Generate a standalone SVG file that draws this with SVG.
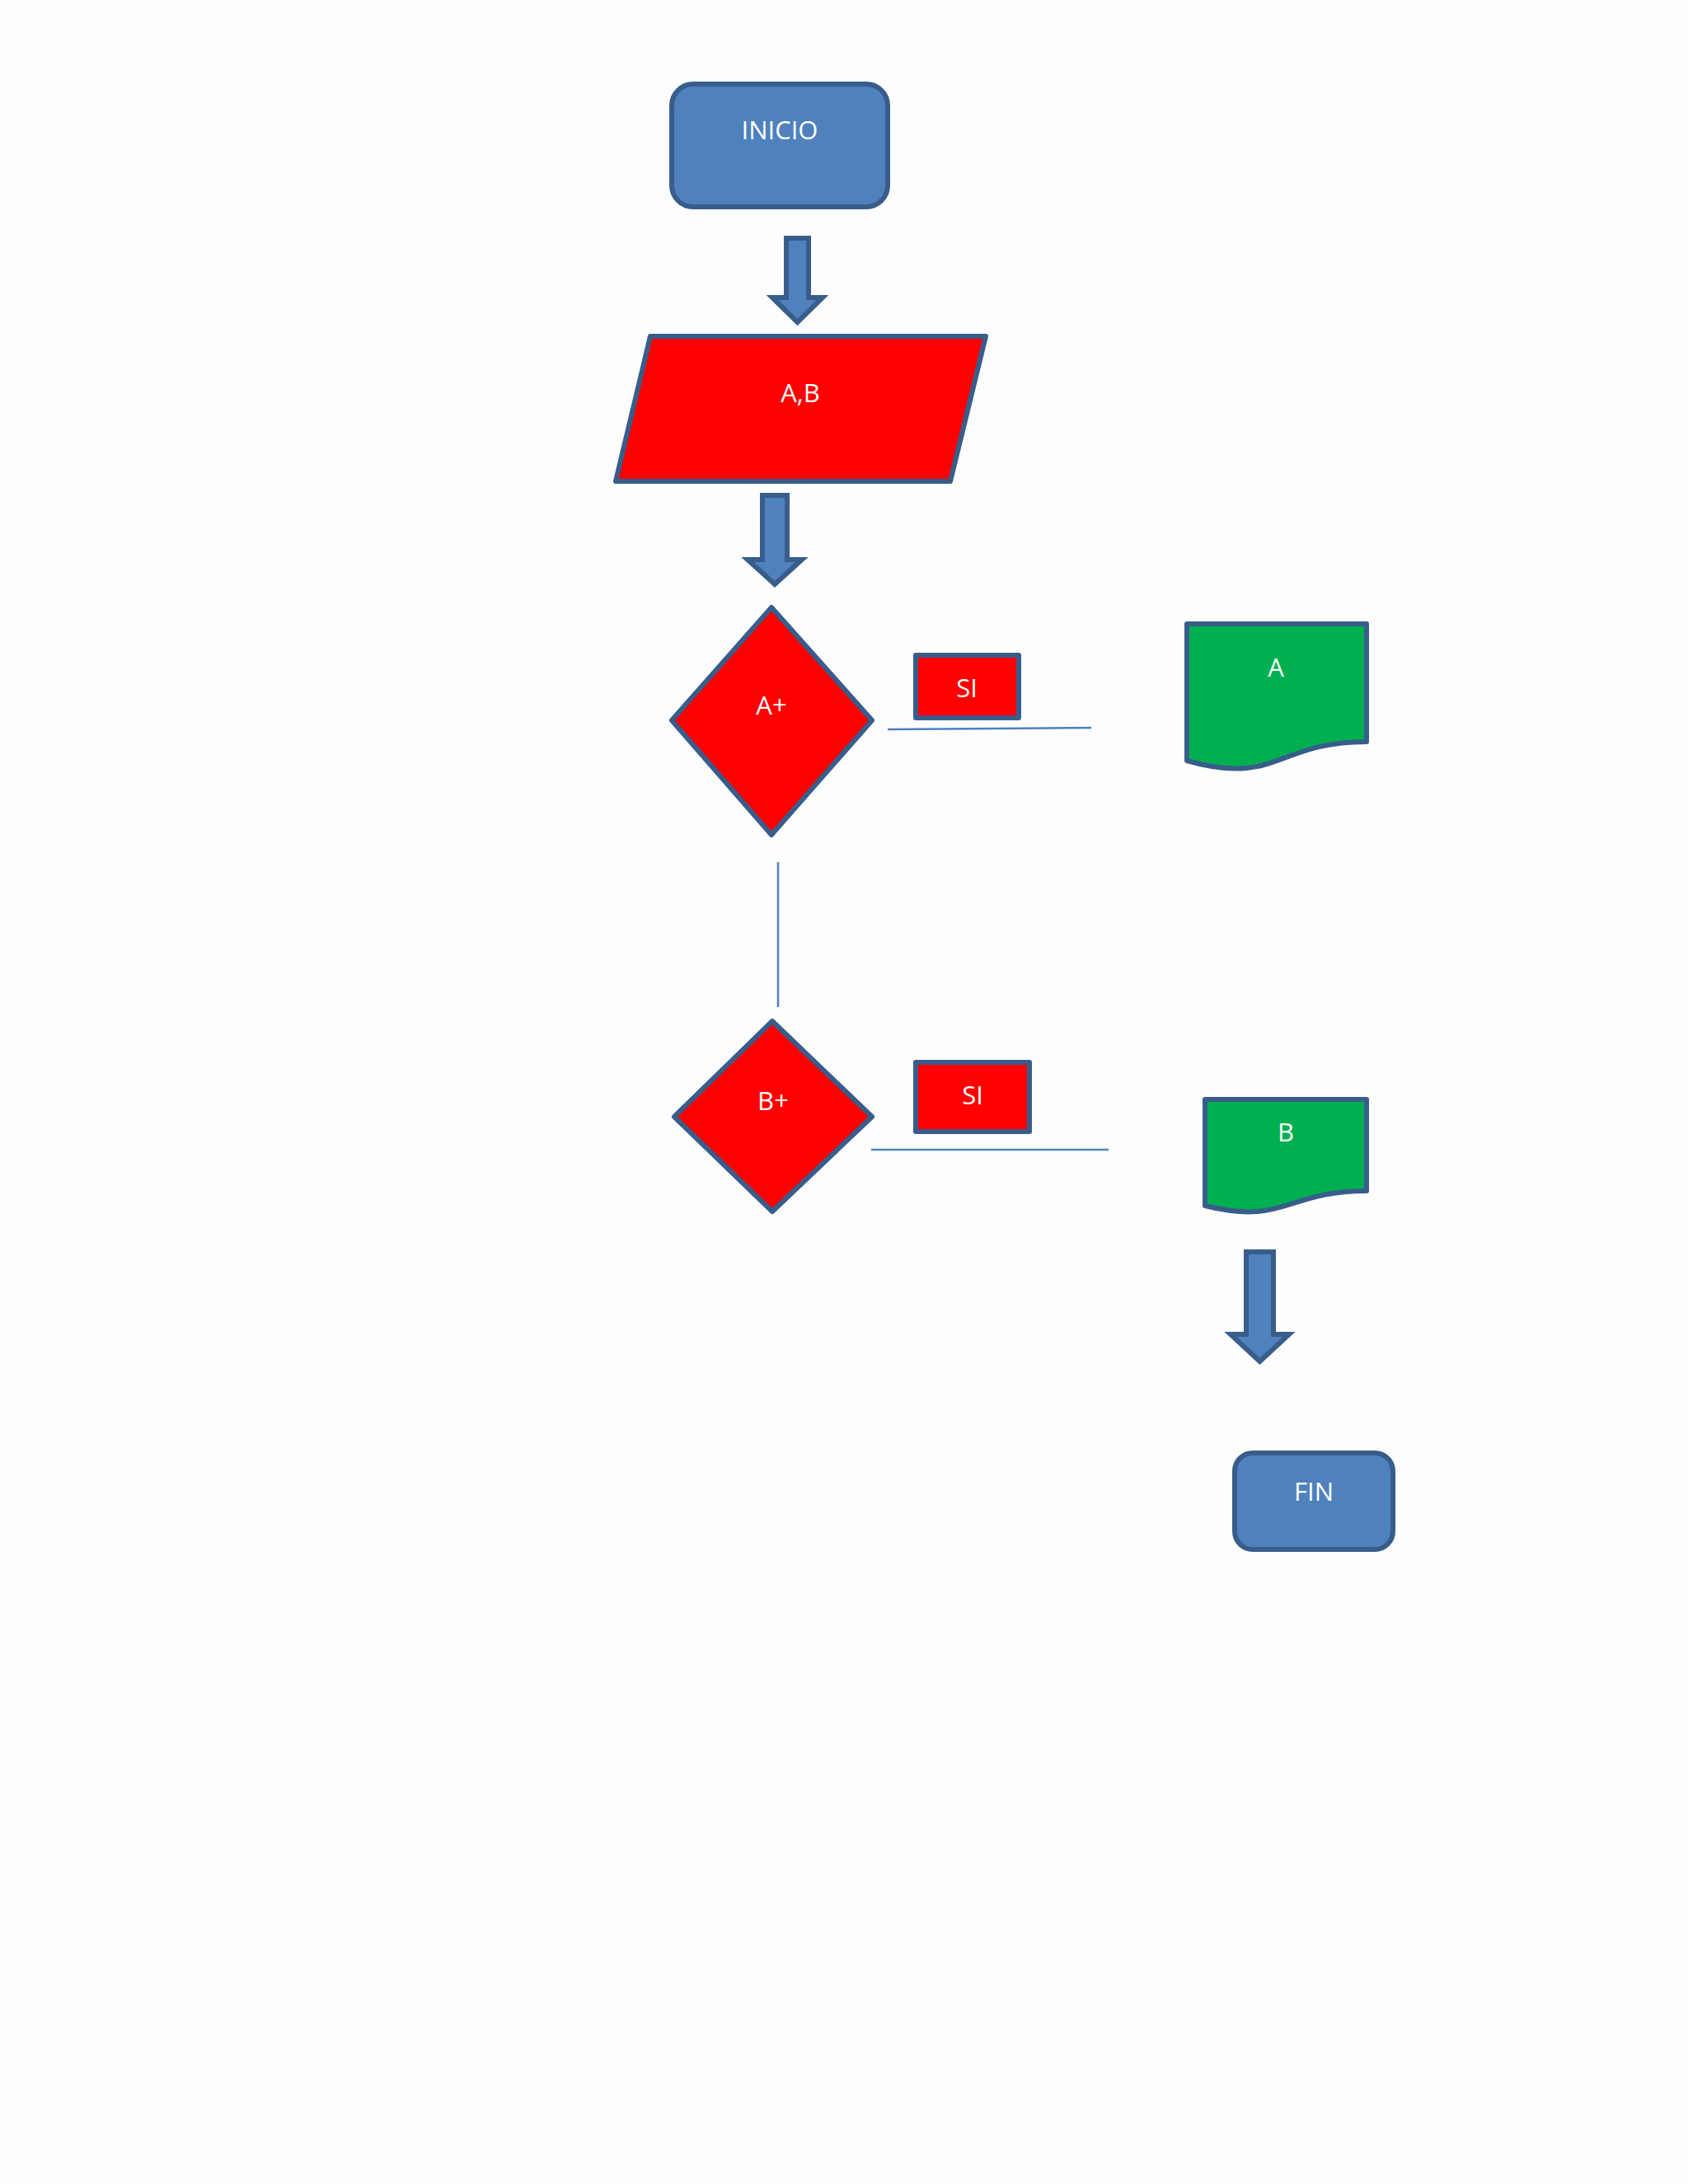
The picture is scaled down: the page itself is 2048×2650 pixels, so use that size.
<svg xmlns="http://www.w3.org/2000/svg" width="2048" height="2650" viewBox="0 0 2048 2650">
<style>
.term{fill:#4F81BD;stroke:#385D8A;stroke-width:6;stroke-linejoin:round}
.red{fill:#FF0000;stroke:#385D8A;stroke-width:6;stroke-linejoin:round}
.green{fill:#00B050;stroke:#385D8A;stroke-width:6;stroke-linejoin:round}
.barrow{fill:#4F81BD;stroke:#385D8A;stroke-width:6;stroke-linejoin:miter}
.line{fill:none;stroke:#4F81BD;stroke-width:2.5}
text{font-family:"Open Sans","Noto Sans","Liberation Sans",sans-serif;font-size:31px;fill:#FFFFFF;text-anchor:middle}
</style>
<rect x="0" y="0" width="2048" height="2650" fill="#FDFDFD"/>
<g id="connectors">
<path class="barrow" d="M954,289 H981 V361 H998 L967.5,391 L937,361 H954 Z"/>
<path class="barrow" d="M925,601 H955 V679 H973 L940,709 L907,679 H925 Z"/>
<path class="barrow" d="M1512,1519 H1545 V1619 H1564 L1528.5,1652 L1493,1619 H1512 Z"/>
<line class="line" x1="1077" y1="885" x2="1324" y2="883"/>
<line class="line" x1="944" y1="1046" x2="944" y2="1222"/>
<line class="line" x1="1057" y1="1395" x2="1345" y2="1395"/>
</g>
<g id="inicio">
<rect class="term" x="815" y="102" width="262" height="149" rx="26" ry="26"/>
<text x="946" y="169">INICIO</text>
</g>
<g id="entrada">
<polygon class="red" points="789,408 1196,408 1153,584 747,584"/>
<text x="971" y="488">A,B</text>
</g>
<g id="decA">
<polygon class="red" points="936,737 1058,874 936,1013 815,874"/>
<text x="936" y="867">A+</text>
</g>
<g id="si1">
<rect class="red" x="1111" y="795" width="125" height="76"/>
<text x="1173" y="846">SI</text>
</g>
<g id="docA">
<path class="green" d="M1440,757 H1658 V900 C1549,900 1549,954 1440,923 Z"/>
<text x="1548" y="821">A</text>
</g>
<g id="decB">
<polygon class="red" points="937,1239 1058,1355 937,1470 818,1355"/>
<text x="938" y="1347">B+</text>
</g>
<g id="si2">
<rect class="red" x="1111" y="1289" width="138" height="84"/>
<text x="1180" y="1340">SI</text>
</g>
<g id="docB">
<path class="green" d="M1462,1334 H1658 V1445 C1560,1445 1560,1487 1462,1463 Z"/>
<text x="1560" y="1385">B</text>
</g>
<g id="fin">
<rect class="term" x="1498" y="1763" width="192" height="117" rx="22" ry="22"/>
<text x="1594" y="1821">FIN</text>
</g>
</svg>
